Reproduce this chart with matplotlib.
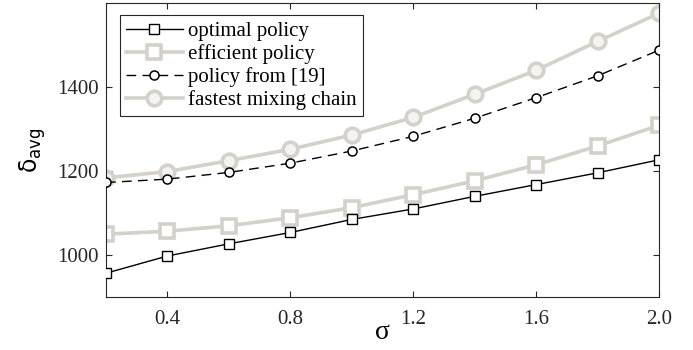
import matplotlib
matplotlib.use("Agg")
import matplotlib.pyplot as plt

# sigma values and average delay for each policy
sigma = [0.2, 0.4, 0.6, 0.8, 1.0, 1.2, 1.4, 1.6, 1.8, 2.0]
optimal = [957, 998, 1027, 1054, 1085, 1110, 1140, 1168, 1196, 1227]
efficient = [1050, 1057, 1070, 1089, 1113, 1144, 1177, 1215, 1260, 1309]
policy19 = [1173, 1181, 1197, 1219, 1248, 1283, 1326, 1375, 1427, 1488]
fastest = [1184, 1199, 1225, 1252, 1286, 1328, 1383, 1440, 1509, 1576]

x_ticks = [0.4, 0.8, 1.2, 1.6, 2.0]
y_ticks = [1000, 1200, 1400]

GRAY = "#d4d0ca"
AXIS = "#262626"

plt.rcParams["font.family"] = ["Liberation Serif", "DejaVu Serif"]
plt.rcParams["mathtext.fontset"] = "dejavusans"

fig = plt.figure(figsize=(6.93, 3.5), dpi=100)
ax = fig.add_axes([0.153, 0.151, 0.798, 0.840])

ax.plot(sigma, optimal, "s-", color="black", linewidth=1.0, markersize=6.5,
        markerfacecolor="white", markeredgewidth=1.0, label="optimal policy", zorder=3)
ax.plot(sigma, efficient, "s-", color=GRAY, linewidth=2.6, markersize=9.5,
        markerfacecolor="white", markeredgewidth=2.6, label="efficient policy", zorder=2)
ax.plot(sigma, policy19, "o--", color="black", linewidth=1.0, markersize=6.5,
        markerfacecolor="white", markeredgewidth=1.1, dashes=(7, 4.5),
        label="policy from [19]", zorder=3)
ax.plot(sigma, fastest, "o-", color=GRAY, linewidth=2.6, markersize=10.5,
        markerfacecolor="#f4f3f1", markeredgewidth=2.6,
        label="fastest mixing chain", zorder=2)

ax.set_xlim(0.2, 2.0)
ax.set_ylim(900, 1600)
ax.set_xticks(x_ticks)
ax.set_xticklabels([f"{v:.1f}" for v in x_ticks])
ax.set_yticks(y_ticks)

ax.tick_params(direction="in", length=4, width=0.8, top=True, right=True,
               labelsize=15, colors=AXIS, labelcolor=AXIS)
ax.tick_params(axis="x", pad=9)
ax.tick_params(axis="y", pad=5)
for s in ax.spines.values():
    s.set_color(AXIS)
    s.set_linewidth(0.8)

ax.set_xlabel("σ", fontsize=20, labelpad=-6)
ax.set_ylabel(r"$\mathrm{\delta}_{\mathrm{avg}}$", fontsize=17, labelpad=7)

leg = ax.legend(loc="upper left", fontsize=15, handlelength=2.7,
                handletextpad=0.25, borderpad=0.3, labelspacing=0.15,
                borderaxespad=0, fancybox=False, framealpha=1, edgecolor=AXIS,
                bbox_to_anchor=(0.0253, 0.959))
leg.get_frame().set_linewidth(0.8)

fig.savefig("out.png", dpi=100)
